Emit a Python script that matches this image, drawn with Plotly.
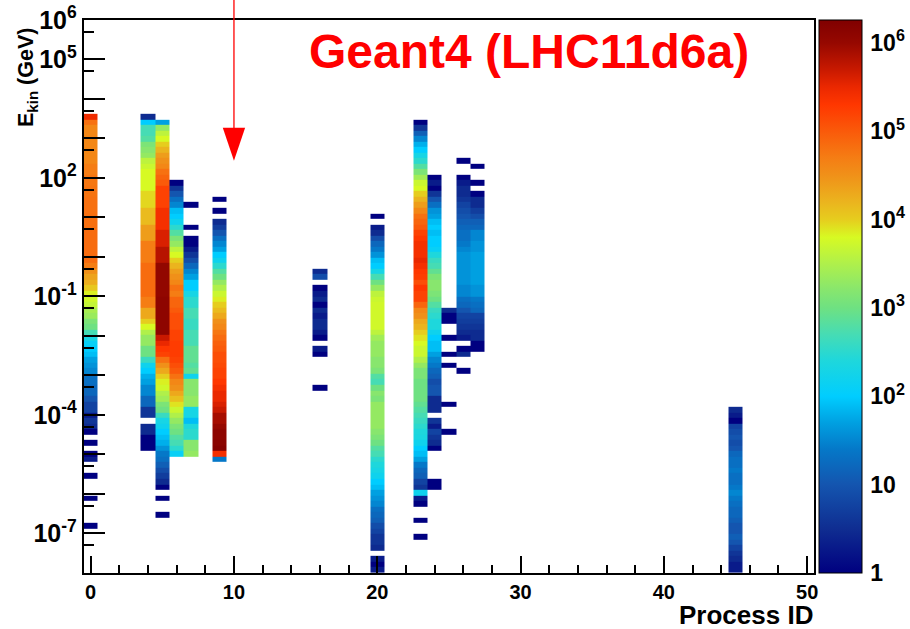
import numpy as np
import plotly.graph_objects as go

# ---------------------------------------------------------------------------
# Binning
# ---------------------------------------------------------------------------
E_MIN_EXP, E_MAX_EXP, N_EBINS = -8, 6, 100          # log10(E/GeV) range, bins
ID_MIN, ID_MAX = -0.5, 50.5                           # process-ID axis range
process_ids = list(range(51))                         # one bin per integer ID
Z_MAX_EXP = 6.26                                      # top of the colour scale (log10 entries)

# ---------------------------------------------------------------------------
# Entries per energy bin, per process.
# Each list starts at the highest filled energy bin (index *_top) and runs
# downwards in energy; 0 marks an empty bin.
# ---------------------------------------------------------------------------
p00_top = 82
p00 = [2.8e5, 6.3e4, 4e4, 4e4, 4e4, 4e4, 4e4, 4e4, 4e4,
       5e4, 5e4, 5.6e4, 5.6e4, 6e4, 6e4, 6.3e4, 6.3e4, 6.3e4, 6.5e4, 6.5e4, 6.5e4,
       7e4, 7e4, 7e4, 7e4, 7e4, 7e4,
       5e4, 3.2e4, 2.2e4, 1.8e4, 1.1e4, 7e3, 5.6e3, 4.5e3,
       2800, 2200, 1300, 1000, 500, 200, 126, 100, 80, 50, 40, 32, 20, 20, 16, 16,
       10, 6, 6, 2, 4, 3, 1,
       0, 1, 0, 1, 2, 0, 0, 1, 0, 0, 0, 1, 0, 0, 0, 0, 1]

p04_top = 82
p04 = [3, 100, 500, 500, 630, 1300, 1600, 2000, 4000, 5000,
       6300, 6300, 6300, 6300, 9000, 9000, 9000, 1.4e4, 1.4e4, 1.4e4,
       2.5e4, 2.5e4, 2.5e4, 5e4, 5e4, 5e4, 5e4, 7e4, 7e4, 7e4, 7e4, 7e4, 7e4,
       5e4, 5e4, 2e4, 2e4, 1e4, 6300, 3200, 2000, 2000, 1000, 1000, 400, 160, 100,
       63, 50, 32, 32, 16, 16, 4, 4, 0, 3, 3, 1, 1, 1]

p05_top = 81
p05 = [50, 2000, 4000, 6300, 1e4, 1.6e4, 2.5e4, 3.2e4, 4e4,
       6.3e4, 8e4, 1e5, 1.6e5, 1.6e5, 1.6e5, 1.6e5, 2.5e5, 2.5e5, 2.5e5, 2.5e5,
       4e5, 4e5, 4e5, 6.3e5, 6.3e5, 6.3e5,
       1.1e6, 1.1e6, 1.1e6, 1.1e6, 1.1e6, 1.1e6,
       1.26e6, 1.26e6, 1.26e6, 1.26e6, 1.26e6, 1.26e6, 1.26e6,
       5e5, 3.2e5, 2e5, 1.6e5, 6.3e4, 3.2e4, 2e4, 1e4, 7e3, 5.6e3, 3200, 2500,
       1300, 1000, 400, 200, 160, 100, 80, 63, 40, 25, 20, 13, 8, 5, 3, 1,
       0, 1, 0, 0, 1]

p06_top = 70
p06 = [1, 4, 10, 20, 32, 80, 100, 160, 320, 630, 1300, 2000, 4000, 6300,
       1e4, 1.6e4, 2.5e4, 3.2e4, 4e4, 6.3e4,
       5e4, 8e4, 8e4, 1e5, 1.26e5, 1.26e5, 1.26e5, 1.6e5, 1.6e5, 1.8e5,
       1.8e5, 1.8e5, 1.6e5, 1.26e5, 1e5, 6.3e4, 4e4, 3.2e4, 2e4, 1.26e4,
       8000, 5000, 3200, 2000, 1300, 1000, 630, 500, 320, 126]

p07_top = 66
p07 = [1, 0, 0, 0, 1, 0, 1, 1, 2, 4,
       8, 16, 32, 50, 100, 100, 200, 320, 320, 500,
       500, 400, 400, 500, 500, 500, 800, 800, 800, 630,
       800, 160, 1600, 1600, 1600, 2000, 2000, 200, 200, 80,
       250, 320, 320, 1600, 1600, 2000]

p09_top = 67
p09 = [1, 0, 1, 0, 3, 5, 10, 20, 32, 50,
       100, 160, 320, 630, 1000, 2000, 3200, 5000, 7100, 1e4,
       1.4e4, 2e4, 3.2e4, 4e4, 5.6e4, 7.1e4, 8.9e4, 1e5, 1.26e5, 1.26e5,
       1.4e5, 1.6e5, 1.6e5, 2e5, 2.5e5, 3.2e5, 3.2e5, 4e5, 5e5, 8e5,
       8e5, 1e6, 1.26e6, 1.26e6, 1.4e6, 1.6e6, 2.5e5, 25]

p16_top = 54
p16 = [3, 8, 0, 1, 2, 3, 1, 3, 2, 3, 3, 2, 1, 0, 2, 1, 0, 0, 0, 0, 0, 1]

p20_top = 64
p20 = [1, 0, 2, 3, 8, 16, 25, 40, 80, 100,
       200, 500, 1000, 2000, 4000, 5000, 5600, 5600, 5600, 5600,
       5600, 4000, 2500, 2000, 2000, 2000, 1600, 1600, 1300, 630,
       500, 1000, 1600, 1300, 2000, 2000, 2000, 2000, 2000, 1600,
       1300, 1000, 630, 500, 320, 250, 200, 160, 100, 80,
       50, 40, 32, 20, 16, 13, 8, 6, 4, 4,
       3, 0, 2, 1, 2]

p23_top = 81
p23 = [1, 4, 13, 32, 63, 100, 200, 320, 630, 1300,
       2500, 5000, 6300, 1e4, 1.6e4, 2.5e4, 4e4, 6.3e4, 8e4, 1e5,
       1.6e5, 2e5, 2.5e5, 2.5e5, 2.5e5, 3.2e5, 2.5e5, 2e5, 1.8e5, 1.26e5,
       2e5, 1.6e5, 1.6e5, 8e4, 4e4, 3.2e4, 2e4, 1.6e4, 1e4, 8000,
       6300, 5000, 5000, 3200, 2000, 1300, 1300, 1000, 1000, 1000,
       1000, 800, 630, 500, 400, 320, 250, 220, 160, 100,
       80, 50, 25, 16, 13, 6, 4, 160, 2, 1,
       0, 0, 1, 0, 0, 1]

p24_top = 71
p24 = [1, 2, 1, 4, 10, 20, 40, 50, 80, 100,
       80, 100, 100, 126, 250, 400, 500, 800, 1300, 1600,
       1600, 1300, 1000, 630, 400, 320, 250, 250, 160, 100,
       80, 80, 50, 32, 25, 16, 13, 8, 10, 10,
       3, 3, 3, 0, 4, 2, 6, 4, 3, 1,
       0, 0, 0, 0, 0, 1, 1]

p25_top = 47
p25 = [3, 1, 1, 0, 0, 1, 0, 0, 1, 0, 1, 0, 0, 0, 0, 0, 0, 1, 0, 0, 0, 0, 1]

p26_top = 74
p26 = [1, 0, 0, 1, 2, 3, 3, 4, 6, 8,
       10, 13, 16, 20, 20, 25, 32, 40, 40, 40,
       40, 40, 40, 32, 32, 20, 16, 10, 6, 5,
       4, 3, 2, 0, 1, 3, 0, 0, 1]

p27_top = 73
p27 = [1, 0, 0, 1, 0, 1, 3, 3, 5, 8,
       13, 16, 32, 32, 40, 40, 50, 50, 50, 50,
       50, 50, 40, 40, 25, 20, 16, 6, 5, 4,
       3, 3, 1, 1]

p45_top = 29
p45 = [3, 2, 1, 6, 8, 10, 8, 10, 16, 20,
       20, 25, 20, 20, 25, 32, 25, 20, 16, 16,
       13, 10, 10, 13, 10, 6, 4, 3, 2, 2]

columns = [
    (0, p00_top, p00), (4, p04_top, p04), (5, p05_top, p05), (6, p06_top, p06),
    (7, p07_top, p07), (9, p09_top, p09), (16, p16_top, p16), (20, p20_top, p20),
    (23, p23_top, p23), (24, p24_top, p24), (25, p25_top, p25), (26, p26_top, p26),
    (27, p27_top, p27), (45, p45_top, p45),
]

# ---------------------------------------------------------------------------
# Histogram matrix: rows = energy bins, columns = process IDs, value = log10(entries)
# ---------------------------------------------------------------------------
log_entries = np.full((N_EBINS, len(process_ids)), np.nan)
for pid, top, entries in columns:
    for k, n in enumerate(entries):
        if n > 0:
            log_entries[top - k, pid] = np.log10(n)
z = [[None if np.isnan(v) else float(v) for v in row] for row in log_entries]

e_edges = 10.0 ** np.linspace(E_MIN_EXP, E_MAX_EXP, N_EBINS + 1)

# Rainbow palette, dark blue (1 entry) to dark red (max)
palette = [
    (0.00, (0, 0, 128)), (0.5, (15, 45, 145)), (1.0, (20, 85, 175)),
    (1.4, (5, 120, 200)), (1.7, (0, 160, 225)), (2.0, (0, 205, 255)),
    (2.4, (30, 215, 220)), (2.7, (70, 220, 180)), (3.0, (110, 225, 130)),
    (3.2, (135, 230, 110)), (3.5, (175, 240, 75)), (3.8, (215, 250, 35)),
    (4.0, (230, 205, 30)), (4.2, (235, 180, 30)), (4.5, (240, 145, 25)),
    (4.7, (245, 125, 20)), (5.0, (250, 90, 10)), (5.3, (255, 55, 0)),
    (5.5, (235, 40, 0)), (5.7, (200, 25, 0)), (6.0, (150, 8, 0)),
    (Z_MAX_EXP, (128, 0, 0)),
]
colorscale = [[lv / Z_MAX_EXP, "rgb(%d,%d,%d)" % c] for lv, c in palette]

# ---------------------------------------------------------------------------
# Page geometry (pixels, margins are zero so paper == page)
# ---------------------------------------------------------------------------
W, H = 910, 629
PX_L, PX_R, PX_T, PX_B = 83.5, 814.3, 19.8, 572.8
CB_L, CB_R = 818.7, 861.3
xdom = [PX_L / W, PX_R / W]
ydom = [1 - PX_B / H, 1 - PX_T / H]

FONT = "Liberation Sans"

fig = go.Figure()
fig.add_trace(go.Heatmap(
    x=process_ids, y=e_edges, z=z,
    zmin=0, zmax=Z_MAX_EXP, colorscale=colorscale,
    hoverongaps=False,
    colorbar=dict(
        x=CB_L / W, xanchor="left", xpad=0, thickness=CB_R - CB_L,
        y=ydom[0], yanchor="bottom", ypad=0, len=ydom[1] - ydom[0],
        lenmode="fraction", outlinewidth=1, outlinecolor="black",
        ticks="", showticklabels=False,
    ),
))
# Empty trace that carries the entries axis laid over the colour bar
fig.add_trace(go.Scatter(x=[None], y=[None], yaxis="y2", mode="markers",
                         showlegend=False, hoverinfo="skip"))

# Axis drawn on the colour bar: entries, log scale
cb_major = [10 ** k for k in range(0, 7)]
cb_text = ["1", "10"] + ["10<sup>%d</sup>" % k for k in range(2, 7)]
cb_minor = [m * 10 ** k for k in range(0, 7) for m in range(2, 10) if m * 10 ** k < 10 ** Z_MAX_EXP]

y_major = [10.0 ** k for k in range(-7, 7)]
y_labelled = {6, 5, 2, -1, -4, -7}
y_text = [("10<sup>%d</sup>" % k if k in y_labelled else "") for k in range(-7, 7)]
y_minor = [5 * 10.0 ** k for k in range(-8, 6)]

fig.update_layout(
    width=W, height=H,
    margin=dict(l=0, r=0, t=0, b=0, autoexpand=False),
    paper_bgcolor="white", plot_bgcolor="white",
    showlegend=False,
    xaxis=dict(
        domain=xdom, range=[ID_MIN, ID_MAX],
        tickmode="array", tickvals=[0, 10, 20, 30, 40, 50],
        ticks="inside", ticklen=17, tickwidth=1.5, tickcolor="black",
        minor=dict(dtick=2, ticks="inside", ticklen=8, tickwidth=1.5, tickcolor="black"),
        showline=True, linecolor="black", linewidth=1.5, mirror=True,
        showgrid=False, zeroline=False,
        tickfont=dict(family=FONT, size=20, color="black", weight="bold"),
    ),
    yaxis=dict(
        domain=ydom, type="log", range=[E_MIN_EXP, E_MAX_EXP],
        tickmode="array", tickvals=y_major, ticktext=y_text,
        ticks="inside", ticklen=22, tickwidth=1.5, tickcolor="black",
        minor=dict(tickmode="array", tickvals=y_minor, ticks="inside",
                   ticklen=11, tickwidth=1.5, tickcolor="black"),
        showline=True, linecolor="black", linewidth=1.5, mirror=True,
        showgrid=False, zeroline=False,
        tickfont=dict(family=FONT, size=25, color="black", weight="bold"),
    ),
    yaxis2=dict(
        overlaying="y", anchor="free", side="right", position=CB_R / W,
        type="log", range=[0, Z_MAX_EXP],
        tickmode="array", tickvals=cb_major, ticktext=cb_text,
        ticks="inside", ticklen=24, tickwidth=1.5, tickcolor="black",
        minor=dict(tickmode="array", tickvals=cb_minor, ticks="inside",
                   ticklen=12, tickwidth=1.5, tickcolor="black"),
        ticklabelstandoff=8,
        showline=False, showgrid=False, zeroline=False,
        tickfont=dict(family=FONT, size=23, color="black", weight="bold"),
    ),
)

# Axis titles
fig.add_annotation(
    text="E<sub>kin</sub> (GeV)", textangle=-90, showarrow=False,
    xref="paper", yref="paper", x=27 / W, y=1 - 78 / H,
    xanchor="center", yanchor="middle",
    font=dict(family=FONT, size=21.5, color="black", weight="bold"),
)
fig.add_annotation(
    text="Process ID", showarrow=False,
    xref="paper", yref="paper", x=815 / W, y=1 - 615 / H,
    xanchor="right", yanchor="middle",
    font=dict(family=FONT, size=26, color="black", weight="bold"),
)

# Sample label
fig.add_annotation(
    text="Geant4 (LHC11d6a)", showarrow=False,
    xref="paper", yref="paper", x=528.5 / W, y=1 - 52 / H,
    xanchor="center", yanchor="middle",
    font=dict(family=FONT, size=48, color="red", weight="bold"),
)

# Red marker arrow pointing down at process ID 10
def id_to_paper(v):
    return xdom[0] + (v - ID_MIN) / (ID_MAX - ID_MIN) * (xdom[1] - xdom[0])

arrow_id = 10
half_w = 0.78
ax0 = id_to_paper(arrow_id)
fig.add_shape(type="line", xref="paper", yref="paper",
              x0=ax0, x1=ax0, y0=1.0, y1=1 - 128 / H,
              line=dict(color="red", width=1.3))
fig.add_shape(type="path", xref="paper", yref="paper",
              path="M %f %f L %f %f L %f %f Z" % (
                  id_to_paper(arrow_id - half_w), 1 - 127.7 / H,
                  id_to_paper(arrow_id + half_w), 1 - 127.7 / H,
                  ax0, 1 - 160.7 / H),
              fillcolor="red", line=dict(color="red", width=0))

fig.write_html("out.html")
